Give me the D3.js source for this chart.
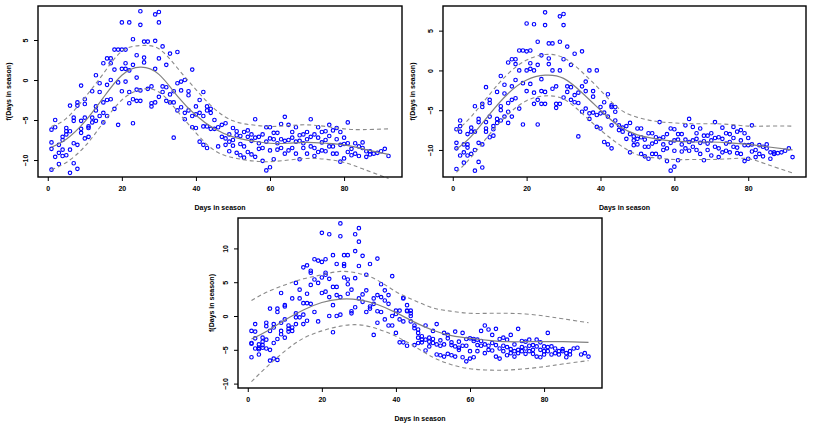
<!DOCTYPE html>
<html>
<head>
<meta charset="utf-8">
<script src="https://cdn.jsdelivr.net/npm/d3@7"></script>
<style>
body { margin: 0; background: #fff; }
text { font-family: 'Liberation Sans', Arial, sans-serif; font-weight: bold; font-size: 7px; fill: #000; }
</style>
</head>
<body>
<svg></svg>
<script>
// day of season = index + 1, partial residuals per day
const days = d3.range(1, 93)

const resid1 = [
[-11.2,-7.8,-6.2,-8.6],[-5.0,-5.9,-9.6],[-10.5,-8.1,-9.1],[-7.1,-7.5,-8.7,-9.5],[-6.0,-6.4,-6.8,-9.4],
[-6.4,-8.7,-11.6,-3.2],[-4.7,-5.1,-7.9,-10.4],[-2.8,-3.2,-8.1,-11.1],[-0.7,-5.1,-6.1,-6.6],[-2.4,-3.0,-4.7,-7.3],
[-6.0,-7.1,-5.8],[-1.4,-4.7,-5.3],[0.6,-3.3,-3.8,-5.1],[-0.4,-1.5,-4.5],[2.1,-2.8,-4.1,-5.3],
[2.7,-0.6,-2.5,-4.5],[2.7,2.1,0,-2.4],[3.8,1.3,-3.6],[3.8,-0.3,-5.6],[7.2,3.8,1.4,-1.4],
[3.8,2.1,1.4,-0.2],[7.2,1.2,-1.5,-2.9],[5.1,1.9,-2.4,-5.4],[3.1,0.3,-1.2,-2.6],[8.6,6.9,-1.3,-2.6],
[4.8,2.8,2.2],[4.8,-1.1],[-0.8,-2.9,-3.3],[4.9,1.4,8.2,-2.8],[8.5,7.2,2.7,-2.1],
[4.2,-0.8,-1.5],[1.9,-0.9,-2.6],[3.3,-1.8,-2.8],[-7.2,-1.4,-2.8],[3.5,-3.8,-0.4],
[-1.3,-0.2,-3.4],[0,-4.1,-4.9],[-1.4,-1.9,-3.8],[1.3,-4.5,-5.9],[-3.3,-6.0,-4.3],
[-2.5,-7.7,-4.1],[-1.5,-8.1,-4.5,-5.8],[-3.3,-5.8,-8.5,-3.8],[-3.6,-4.1,-6.1],[-5.0,-6.1],
[-5.9,-8.3],[-5.6,-7.1],[-5.4,-7.3,-8.1],[-6.8,-7.7,-8.9],[-6.0,-7.5,-8.2],
[-6.4,-6.9,-9.1],[-8.0,-9.4,-7.0],[-6.5,-8.3,-9.7],[-6.3,-7.1,-9.0],[-6.8,-9.3,-7.6],
[-4.9,-7.2,-9.6],[-7.1,-7.9,-8.6],[-6.8,-8.5,-10.1],[-5.9,-7.7,-11.3],[-5.9,-8.8,-10.9,-7.3],
[-6.6,-7.4,-9.9],[-6.6,-7.9,-8.7],[-5.5,-7.4,-8.5],[-4.6,-7.6,-9.2],[-5.6,-7.5,-8.8],
[-6.5,-8.5,-7.2],[-5.9,-9.2,-7.7],[-7.6,-9.9,-6.9],[-6.8,-8.5,-7.9],[-6.5,-9.2,-7.4],
[-4.9,-8.3,-7.1],[-8.5,-9.5,-6.8],[-5.9,-7.2,-9.0],[-6.5,-7.8,-8.8],[-6.4,-8.9,-7.5],
[-5.6,-8.3,-7.0],[-6.3,-8.3,-9.2],[-6.0,-7.4,-9.2],[-6.5,-10.2,-8.1],[-8.0,-9.8,-7.2],
[-5.3,-7.9,-9.0],[-8.6,-9.4],[-7.9,-9.2],[-8.3,-9.5],[-7.8,-8.5],
[-8.9,-9.6],[-8.9,-9.3],[-9.2],[-9.1],[-8.9],[-8.6],[-9.5]
]

const resid2 = [
[-12.4,-9.1,-7.4,-9.8],[-6.3,-7.7,-7.0,-10.7],[-9.3,-10.3,-11.6],[-8.0,-9.3,-9.7,-10.7],[-7.2,-7.7,-10.5],
[-4.5,-7.7,-12.6,-10.0],[-6.1,-6.5,-9.1,-11.5],[-4.2,-4.6,-9.3,-12.2],[-2.1,-6.5,-7.3,-7.7],[-3.7,-4.1,-5.8,-8.4],
[-7.0,-8.2,-7.4],[-2.7,-6.1,-6.6],[-0.7,-4.5,-5.0,-6.3],[-1.8,-2.9,-5.8],[1.0,-4.1,-6.6,-5.2],
[1.4,-2.0,-3.7,-5.8],[1.4,0.8,-1.2,-3.5],[2.5,0,-4.8],[2.5,-1.6,-6.8],[5.9,2.4,0,-2.6],
[2.5,0.9,0.2,-1.7],[5.8,0,-2.8,-4.2],[3.6,0.7,-3.7,-6.8],[1.9,-1.1,-2.6,-4.2],[7.3,5.7,-2.7,-4.2],
[3.4,1.5,0.8],[3.4,0,-2.3],[-2.0,-4.2,-4.7],[3.6,0,6.8,-4.2],[7.1,5.7,1.4,-3.4],
[3.0,-2.0,-2.7],[0.7,-2.1,-3.7],[2.1,-3.1,-4.0],[-8.3,-2.8,-4.1],[2.4,-5.2,-2.0],
[-2.6,-1.4,-4.8],[0,-5.4,-6.1],[-2.6,-3.3,-5.3],[0,-5.6,-7.1],[-4.6,-7.3,-5.4],
[-4.0,-9.0,-5.3],[-3.0,-9.3,-5.8],[-4.6,-6.9,-9.8,-4.4],[-4.6,-5.2,-6.3],[-7.5,-6.9],
[-7.2,-7.7],[-7.0,-8.6],[-6.6,-10.3,-8.0],[-8.3,-8.8,-9.4],[-7.3,-8.6,-9.3],
[-7.3,-8.4,-10.5],[-9.6,-10.8,-8.7],[-7.9,-9.6,-11.1],[-7.9,-9.2,-10.5],[-8.4,-10.5,-9.0],
[-6.5,-8.6,-10.9],[-8.4,-9.3,-10.0],[-8.0,-11.4,-9.8],[-7.3,-9.1,-12.6],[-7.4,-10.1,-12.1,-8.8],
[-8.0,-8.7,-11.3],[-8.0,-9.3,-10.2],[-6.9,-8.7,-9.8],[-6.1,-9.0,-10.1],[-7.1,-8.8,-9.6],
[-7.9,-10.0,-8.6],[-7.3,-10.5,-9.1],[-8.9,-11.3,-8.2],[-8.2,-10.0,-9.2],[-7.9,-10.7,-8.8],
[-6.5,-9.6,-8.5],[-9.8,-10.9,-8.4],[-7.2,-8.6,-10.3],[-7.9,-9.2,-10.1],[-8.0,-10.3,-9.0],
[-7.1,-9.6,-8.5],[-7.7,-9.7,-10.4],[-7.5,-8.8,-10.5],[-7.9,-11.4,-9.4],[-9.4,-11.1,-8.5],
[-6.9,-9.3,-10.2],[-10.0,-10.9],[-9.4,-10.5],[-9.6,-10.8],[-9.3,-9.8],
[-10.3,-11.1],[-10.3,-10.5],[-10.4],[-10.3],[-10.1],[-9.8],[-10.9]
]

const resid3 = [
[-6.1,-4.0,-2.2,-4.1],[-1.2,-2.3,-3.3,-4.8],[-5.7,-4.7,-4.2,-4.9],[-3.2,-3.8,-4.3,-4.7],[-1.0,-1.5,-3.5,-4.8],
[1.1,-2.2,-6.6,-5.0],[-1.2,-1.7,-4.0,-6.3],[1.1,0.6,-3.4,-6.5],[3.4,-2.2,-2.7,-1.0],[1.6,1.4,-0.5,-3.2],
[-1.4,-2.3,-1.9],[-1.7,-2.2,2.6],[4.9,0.4,-0.2,-1.2],[3.9,2.6,-0.2],[7.2,1.9,-1.2,0.2],
[7.5,3.3,1.9,-0.7],[6.7,6.4,4.6,1.8],[8.4,5.4,0.6],[8.2,4.9,-0.8],[12.3,8.0,3.4,5.7],
[8.4,6.4,6.1,3.6],[12.1,5.5,2.8,0],[9.0,1.6,-2.4,4.3],[7.7,4.3,3.1,0],[13.7,11.8,2.8,0.2],
[9.0,7.7,7.4,5.7],[9.0,5.4,4.7,3.3],[3.9,0.7,0.4],[12.1,9.6,5.6,1.3],[13.0,11.0,7.4,2.6],
[8.9,3.2,2.1],[6.1,3.8,0.6],[7.7,1.4,1.1],[-2.8,2.6,1.8],[8.5,-1.0,3.1,0.7],
[4.7,2.8,0.6],[3.8,-0.5,2.3],[1.8,-1.4,3.1],[5.9,-1.4,0],[-2.5,0.8,0.3],
[-3.9,0.8,-0.5],[2.7,-3.9,-0.8,2.6],[1.6,-4.4,0.8,0.7],[0.8,0.4,0,-0.8],[-1.4,-1.8,-4.3],
[-2.0,-2.5,-3.2,-4.0],[-3.0,-3.5,-3.9],[-1.4,-3.5,-5.1],[-3.2,-3.8,-4.5],[-2.2,-3.4,-4.0],
[-1.2,-4.2,-5.7],[-4.4,-5.8,-3.6],[-2.5,-4.2,-6.0],[-2.8,-3.3,-5.6],[-4.3,-5.8,-3.9],
[-2.3,-4.5,-6.0],[-4.7,-5.0,-3.8],[-2.5,-6.1,-4.4],[-3.4,-4.4,-6.7],[-3.3,-6.3,-5.2],
[-3.4,-3.7,-6.1],[-3.5,-4.3,-5.2],[-2.2,-3.7,-4.4],[-1.4,-4.2,-5.5],[-2.0,-4.4,-5.0],
[-2.8,-5.1,-4.0],[-1.9,-6.0,-4.3],[-3.4,-6.3,-4.8],[-3.2,-5.2,-4.4],[-3.5,-5.8,-4.6],
[-2.8,-4.9,-5.5],[-5.2,-6.0,-4.2],[-1.9,-5.0,-5.5],[-3.7,-5.2,-4.6],[-3.8,-5.6,-4.8],
[-3.5,-5.2,-4.4],[-4.3,-5.6,-5.0],[-3.5,-4.5,-6.0],[-3.9,-6.1,-5.0],[-5.2,-5.7,-4.5],
[-2.5,-5.2,-4.6],[-4.5,-5.7],[-4.8,-5.5],[-5.2,-5.7],[-4.9,-5.2],
[-6.1,-5.5],[-5.2,-5.7],[-4.8],[-4.7],[-5.7],[-5.5],[-6.0]
]

// smooth fit and its confidence band, sampled at these days
const fitDays = [1, 5, 10, 15, 20, 25, 30, 35, 40, 45, 50, 55, 60, 65, 70, 75, 80, 85, 92]

const fit1 = [-8.4, -7.4, -5.2, -2.2, 0.6, 1.6, 0.7, -2.0, -4.4, -6.1, -7.1, -7.6, -7.9, -7.9, -7.8, -7.9, -8.1, -8.6, -9.3]
const upper1 = [-5.8, -4.8, -2.2, 0.8, 3.6, 4.3, 3.9, 1.5, -1.2, -3.6, -5.1, -5.6, -5.8, -5.7, -5.6, -5.8, -6.1, -6.2, -6.1]
const lower1 = [-11.2, -10.3, -8.3, -5.3, -2.5, -1.2, -1.5, -3.9, -6.6, -8.8, -9.7, -10.1, -10.2, -10.0, -9.8, -9.9, -10.3, -11.1, -12.3]

const fit2 = [-9.9, -8.3, -5.5, -2.9, -1.2, -0.6, -1.0, -2.8, -5.0, -7.0, -8.1, -8.6, -8.9, -9.0, -9.0, -9.1, -9.3, -9.6, -10.0]
const upper2 = [-7.6, -5.8, -3.0, -0.4, 1.3, 2.0, 1.6, -0.2, -2.5, -4.8, -5.9, -6.4, -6.6, -6.7, -6.7, -6.8, -7.0, -7.0, -7.0]
const lower2 = [-12.8, -10.9, -8.0, -5.5, -3.8, -3.2, -3.6, -5.4, -7.5, -9.3, -10.6, -11.0, -11.2, -11.2, -11.2, -11.1, -11.1, -11.8, -12.9]

const fit3 = [-3.4, -2.3, -0.6, 0.9, 2.0, 2.5, 2.4, 1.7, 0.5, -0.9, -2.1, -2.9, -3.3, -3.6, -3.8, -3.8, -3.8, -3.8, -3.9]
const upper3 = [2.3, 3.5, 4.6, 5.5, 6.1, 6.6, 6.3, 5.3, 3.6, 2.3, 1.2, 0.7, 0.4, 0.4, 0.4, 0.3, 0.0, -0.4, -1.0]
const lower3 = [-9.7, -7.6, -5.2, -3.3, -2.2, -1.5, -1.3, -1.9, -3.0, -4.5, -6.1, -7.2, -7.8, -8.0, -8.0, -7.8, -7.5, -7.1, -6.6]

const xTicks = [0, 20, 40, 60, 80]
const yTicksTop = [-10, -5, 0, 5]
const yTicksBottom = [-10, -5, 0, 5, 10]

const xTitle = 'Days in season'
const yTitle = 'f(Days in season)'

let w = 813, h = 426

let svg = d3.select('svg')
	.attr('width', w)
	.attr('height', h)

const panels = [
	{ x0: 38, x1: 402, y0: 6, y1: 177, yDom: [-12.12, 9.25], yTicks: yTicksTop, resid: resid1, fit: fit1, up: upper1, lo: lower1, yTitleOff: 29 },
	{ x0: 443, x1: 806, y0: 6, y1: 177, yDom: [-13.4, 8.1], yTicks: yTicksTop, resid: resid2, fit: fit2, up: upper2, lo: lower2, yTitleOff: 30 },
	{ x0: 238, x1: 602, y0: 218, y1: 388, yDom: [-10.65, 14.5], yTicks: yTicksBottom, resid: resid3, fit: fit3, up: upper3, lo: lower3, yTitleOff: 26 }
]

panels.forEach(p => {
	let scX = d3.scaleLinear().domain([-2.64, 95.64]).range([p.x0, p.x1])
	let scY = d3.scaleLinear().domain(p.yDom).range([p.y1, p.y0])

	let g = svg.append('g')

	// points
	let pts = []
	p.resid.forEach((vs, i) => vs.forEach(v => pts.push([days[i], v])))

	g.append('g')
		.selectAll('circle')
		.data(pts).enter().append('circle')
		.attr('cx', d => scX(d[0]))
		.attr('cy', d => scY(d[1]))
		.attr('r', 1.75)
		.attr('fill', 'none')
		.attr('stroke', '#0000ff')
		.attr('stroke-width', 1.15)

	let line = d3.line()
		.x((d, i) => scX(fitDays[i]))
		.y(d => scY(d))
		.curve(d3.curveNatural)

	g.append('path').attr('d', line(p.fit))
		.attr('fill', 'none').attr('stroke', '#808080').attr('stroke-width', 1.2)

	;[p.up, p.lo].forEach(band => {
		g.append('path').attr('d', line(band))
			.attr('fill', 'none').attr('stroke', '#8a8a8a').attr('stroke-width', 1.1)
			.attr('stroke-dasharray', '4,3')
	})

	// axes
	let xAx = d3.axisBottom(scX).tickValues(xTicks).tickSize(4).tickPadding(5)
	let gx = g.append('g').attr('transform', `translate(0, ${p.y1})`).call(xAx)
	gx.select('.domain').remove()
	gx.selectAll('text').style('font-size', '7px').style('font-family', null).attr('fill', '#000')

	let yAx = d3.axisLeft(scY).tickValues(p.yTicks).tickSize(4)
	let gy = g.append('g').attr('transform', `translate(${p.x0}, 0)`).call(yAx)
	gy.select('.domain').remove()
	gy.selectAll('text')
		.attr('x', null).attr('y', null).attr('dy', '0.35em')
		.attr('transform', 'translate(-12,0) rotate(-90)')
		.attr('text-anchor', 'middle')
		.attr('fill', '#000')

	svg.selectAll('.tick line').attr('stroke', '#000')

	// box
	g.append('rect')
		.attr('x', p.x0).attr('y', p.y0)
		.attr('width', p.x1 - p.x0).attr('height', p.y1 - p.y0)
		.attr('fill', 'none').attr('stroke', '#000').attr('stroke-width', 1.4)

	g.append('text')
		.attr('x', (p.x0 + p.x1) / 2)
		.attr('y', p.y1 + 32.5)
		.attr('text-anchor', 'middle')
		.text(xTitle)

	g.append('text')
		.attr('transform', `translate(${p.x0 - p.yTitleOff}, ${(p.y0 + p.y1) / 2}) rotate(-90)`)
		.attr('dy', '0.35em')
		.attr('text-anchor', 'middle')
		.text(yTitle)
})
</script>
</body>
</html>
